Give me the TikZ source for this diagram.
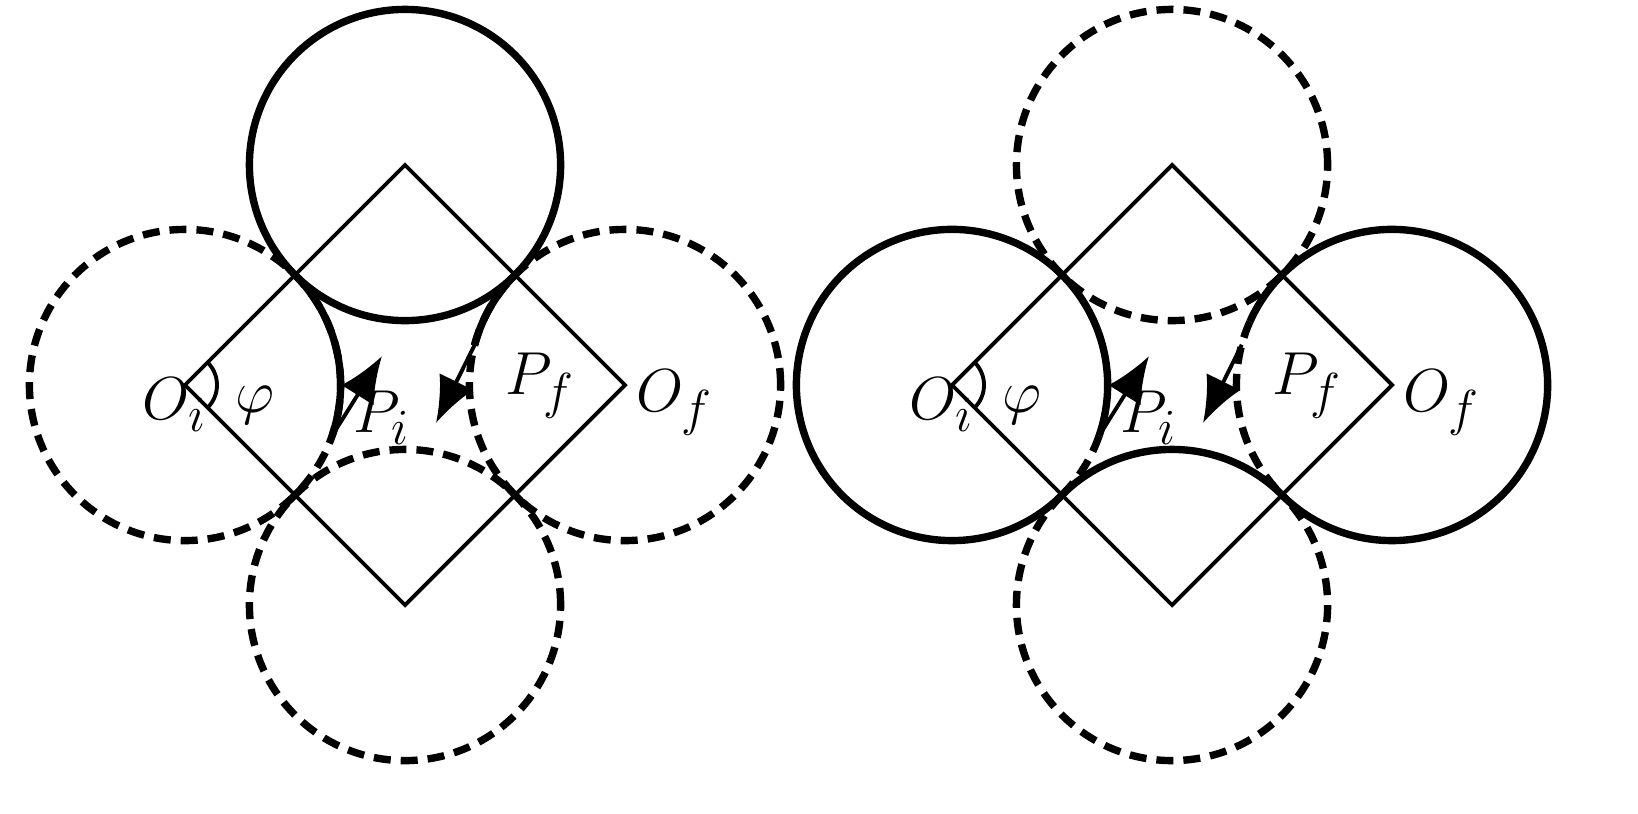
\documentclass[tikz,border=0pt]{standalone}
\usetikzlibrary{arrows.meta,calc}
\tikzset{
  wall/.style={line width=1.1pt},
  ring/.style={line width=2.1pt},
  ghost/.style={line width=2.1pt, dash pattern=on 0.17cm off 0.1cm},
  move/.style={line width=1.1pt, -{Latex[length=4.6mm,width=3.8mm]}},
  lbl/.style={font=\fontsize{19}{22}\selectfont}
}
\begin{document}
\begin{tikzpicture}
\useasboundingbox (0,0) rectangle (16.38,8.13);
% left picture
\begin{scope}[shift={(1.85,4.28)}]
\coordinate (a1) at (0,0);
\coordinate (a2) at (2.2,2.2);
\coordinate (a3) at (4.4,0);
\coordinate (a4) at (2.2,-2.2);
\coordinate (ap) at (-19:1.556);
\coordinate (aq) at ($(a3)+(165:1.556)$);

\draw[wall] (a1) -- (a2) -- (a3) -- (a4) -- cycle;
\draw[ring] (a2) circle (1.556);
\draw[ghost] (a1) circle (1.556);
\draw[ghost] (a3) circle (1.556);
\draw[ghost] (a4) circle (1.556);
\draw[ring] (a1) ++(45:1.556) arc (45:-19:1.556);
\draw[ring] (a3) ++(135:1.556) arc (135:165:1.556);
\draw[wall] (a1) ++(-45:0.32) arc (-45:45:0.32);

\node[lbl] (aOi) at (-0.10,-0.20) {$O_i$};
\node[lbl] (aphi) at (0.70,-0.20) {$\varphi$};
\node[lbl] (aPi) at (1.97,-0.33) {$P_i$};
\node[lbl] (aPf) at (3.55,-0.01) {$P_f$};
\node[lbl] (aOf) at (4.90,-0.18) {$O_f$};
\coordinate (at) at (1.97,0.29);
\coordinate (au) at (2.51,-0.38);
\draw[move] (ap) -- (at);
\draw[move] (aq) -- (au);
\end{scope}
% right picture
\begin{scope}[shift={(9.52,4.28)}]
\coordinate (b1) at (0,0);
\coordinate (b2) at (2.2,2.2);
\coordinate (b3) at (4.4,0);
\coordinate (b4) at (2.2,-2.2);
\coordinate (bp) at (-19:1.556);
\coordinate (bq) at ($(b3)+(165:1.556)$);

\draw[wall] (b1) -- (b2) -- (b3) -- (b4) -- cycle;
\draw[ghost] (b2) circle (1.556);
\draw[ring] (b1) ++(-19:1.556) arc (-19:315:1.556);
\draw[ghost] (b1) ++(-19:1.556) arc (-19:-45:1.556);
\draw[ring] (b3) ++(156:1.556) arc (156:-135:1.556);
\draw[ghost] (b3) ++(156:1.556) arc (156:225:1.556);
\draw[ring] (b4) ++(45:1.556) arc (45:135:1.556);
\draw[ghost] (b4) ++(135:1.556) arc (135:405:1.556);
\draw[wall] (b1) ++(-45:0.32) arc (-45:45:0.32);

\node[lbl] (bOi) at (-0.10,-0.20) {$O_i$};
\node[lbl] (bphi) at (0.70,-0.20) {$\varphi$};
\node[lbl] (bPi) at (1.97,-0.33) {$P_i$};
\node[lbl] (bPf) at (3.55,-0.01) {$P_f$};
\node[lbl] (bOf) at (4.90,-0.18) {$O_f$};
\coordinate (bt) at (1.97,0.29);
\coordinate (bu) at (2.51,-0.38);
\draw[move] (bp) -- (bt);
\draw[move] (bq) -- (bu);
\end{scope}
\end{tikzpicture}
\end{document}
